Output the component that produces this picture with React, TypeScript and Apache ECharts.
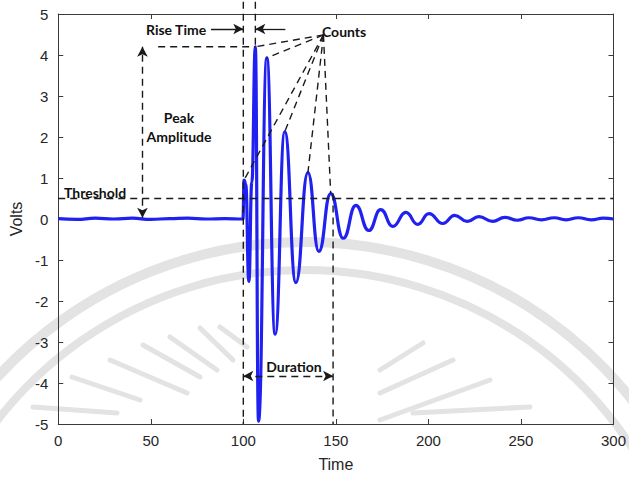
import React, { useEffect, useRef } from "react";
import * as echarts from "echarts";

// ---- axis ranges / ticks ----
const xRange = [0, 300];
const xStep = 50;
const yRange = [-5, 5];
const yStep = 1;

// ---- signal (time, volts) ----
const timeValues = [
  0, 10, 20, 30, 40, 50, 60, 70, 80, 90, 99.8,
  100.4, 101.3, 103, 104.6, 106.5, 108.2, 112.7, 117.2, 122.4, 128.4, 134.9,
  140.8, 147.2, 154, 160.8, 167.8, 174.2, 180.8, 187.8, 194.2, 200.3, 207.8,
  214.2, 221, 227.3, 234.7, 241.3, 248, 254.3, 261, 268, 274.3, 281, 288,
  294.5, 300,
];
const voltValues = [
  0.01, -0.01, 0.02, 0.0, 0.02, -0.01, 0.01, 0.02, 0.0, 0.01, 0.0,
  0.95, 0.85, -1.52, 0.9, 4.2, -4.93, 3.93, -2.81, 2.13, -1.55, 1.13,
  -0.79, 0.62, -0.47, 0.33, -0.28, 0.23, -0.18, 0.16, -0.13, 0.13, -0.11,
  0.09, -0.06, 0.06, -0.06, 0.04, -0.03, 0.03, -0.02, 0.03, -0.02, 0.03, -0.02,
  0.02, 0.0,
];

// ---- annotation geometry (data coordinates) ----
const thresholdLevel = 0.5;
const peakLevel = 4.2;
const burstStart = 100;
const burstEnd = 148.5;
const peakTime = 106.5;
const axisOvershoot = 5.3;
const peakLineStart = 54;
const ampArrowTime = 45.5;
const riseArrowLevel = 4.635;
const riseArrowLeftFrom = 82.5;
const riseArrowRightFrom = 122.7;
const durationLevel = -3.83;
const countsApex: [number, number] = [143.3, 4.49];
const countPeaks: [number, number][] = [
  [100.4, 0.95],
  [106.5, 4.2],
  [112.7, 3.93],
  [122.4, 2.13],
  [134.9, 1.13],
  [147.2, 0.62],
];

const dashedSegments: [number, number][][] = [
  [[xRange[0], thresholdLevel], [xRange[1], thresholdLevel]],
  [[burstStart, axisOvershoot], [burstStart, yRange[0]]],
  [[peakTime, axisOvershoot], [peakTime, peakLevel]],
  [[peakLineStart, peakLevel], [peakTime, peakLevel]],
  [[burstEnd, 0.62], [burstEnd, yRange[0]]],
  ...countPeaks.map((p) => [countsApex, p] as [number, number][]),
];

const FONT_AX = "'Liberation Sans', Arial, sans-serif";
const FONT_ANN = "Lato, 'Open Sans', sans-serif";
const AX_COLOR = "#3a3a3a";
const TXT_COLOR = "#262626";
const DASH = [7, 5];

export default function App() {
  const ref = useRef<HTMLDivElement>(null);

  useEffect(() => {
    if (!ref.current) return;
    const chart = echarts.init(ref.current, undefined, { renderer: "svg" });

    const axisCommon = {
      type: "value" as const,
      axisLine: { show: true, onZero: false, lineStyle: { color: AX_COLOR, width: 1 } },
      axisTick: { show: true, inside: true, length: 5, lineStyle: { color: AX_COLOR } },
      splitLine: { show: false },
    };

    const dashedSeries = dashedSegments.map((seg) => ({
      type: "line",
      data: seg,
      symbol: "none",
      clip: false,
      silent: true,
      z: 3,
      lineStyle: { color: "#1a1a1a", width: 1.4, type: DASH },
    }));

    const arrowLine = (
      a: [number, number],
      b: [number, number],
      startArrow: boolean,
      endArrow: boolean
    ) => [
      { coord: a, symbol: startArrow ? "arrow" : "none" },
      { coord: b, symbol: endArrow ? "arrow" : "none" },
    ];

    const markCommon = {
      silent: true,
      animation: false,
      symbol: ["none", "none"],
      symbolSize: [8, 10],
      label: { show: false },
      emphasis: { disabled: true },
    };

    const arrowSeries = {
      type: "line",
      data: [],
      clip: false,
      silent: true,
      z: 3,
      markLine: {
        ...markCommon,
        lineStyle: { color: "#1a1a1a", width: 1.4, type: DASH },
        data: [
          arrowLine([ampArrowTime, 0.03], [ampArrowTime, peakLevel], true, true),
          arrowLine([burstStart, durationLevel], [burstEnd, durationLevel], true, true),
        ],
      },
    };

    const solidArrowSeries = {
      type: "line",
      data: [],
      clip: false,
      silent: true,
      z: 3,
      markLine: {
        ...markCommon,
        lineStyle: { color: "#1a1a1a", width: 1.3, type: "solid" },
        data: [
          arrowLine([riseArrowLeftFrom, riseArrowLevel], [burstStart, riseArrowLevel], false, true),
          arrowLine([riseArrowRightFrom, riseArrowLevel], [peakTime, riseArrowLevel], false, true),
        ],
      },
    };

    const annText = (text: string, x: number, y: number, align = "left") => ({
      type: "text",
      x,
      y,
      z: 20,
      silent: true,
      style: {
        text,
        fontFamily: FONT_ANN,
        fontWeight: "bold",
        fontSize: 14,
        fill: "#111",
        align,
        verticalAlign: "middle",
      },
    });

    const wm = "#e3e3e3";
    const rays: number[][] = [
      [72, 377, 140, 400],
      [110, 360, 187, 393],
      [143, 345, 200, 377],
      [170, 337, 217, 370],
      [200, 328, 233, 360],
      [220, 327, 247, 347],
      [33, 407, 117, 413],
      [423, 343, 380, 370],
      [453, 360, 380, 393],
      [490, 380, 380, 420],
      [530, 407, 413, 413],
    ];

    const graphic: any[] = [
      {
        type: "arc",
        z: -10,
        silent: true,
        shape: { cx: 305, cy: 660, r: 418, startAngle: (200 * Math.PI) / 180, endAngle: (340 * Math.PI) / 180 },
        style: { stroke: wm, lineWidth: 10, fill: "none" },
      },
      {
        type: "arc",
        z: -10,
        silent: true,
        shape: { cx: 305, cy: 660, r: 390, startAngle: (200 * Math.PI) / 180, endAngle: (340 * Math.PI) / 180 },
        style: { stroke: wm, lineWidth: 8, fill: "none" },
      },
      ...rays.map((r) => ({
        type: "line",
        z: -10,
        silent: true,
        shape: { x1: r[0], y1: r[1], x2: r[2], y2: r[3] },
        style: { stroke: wm, lineWidth: 5, lineCap: "round" },
      })),
      annText("Rise Time", 146, 29),
      annText("Counts", 322, 31),
      annText("Peak", 179, 117, "center"),
      annText("Amplitude", 179, 136, "center"),
      annText("Threshold", 64, 192),
      annText("Duration", 294, 366, "center"),
    ];

    chart.setOption({
      animation: false,
      backgroundColor: "#ffffff",
      grid: { left: 58, right: 14, top: 14, bottom: 52, containLabel: false },
      xAxis: [
        {
          ...axisCommon,
          min: xRange[0],
          max: xRange[1],
          interval: xStep,
          position: "bottom",
          name: "Time",
          nameLocation: "middle",
          nameGap: 32,
          nameTextStyle: { fontSize: 16, color: TXT_COLOR, fontFamily: FONT_AX },
          axisLabel: { fontSize: 15, color: TXT_COLOR, margin: 9, fontFamily: FONT_AX },
        },
        {
          ...axisCommon,
          min: xRange[0],
          max: xRange[1],
          interval: xStep,
          position: "top",
          axisLabel: { show: false },
        },
      ],
      yAxis: [
        {
          ...axisCommon,
          min: yRange[0],
          max: yRange[1],
          interval: yStep,
          position: "left",
          name: "Volts",
          nameLocation: "middle",
          nameGap: 29,
          nameTextStyle: { fontSize: 16, color: TXT_COLOR, fontFamily: FONT_AX },
          axisLabel: { fontSize: 15, color: TXT_COLOR, margin: 10, fontFamily: FONT_AX },
        },
        {
          ...axisCommon,
          min: yRange[0],
          max: yRange[1],
          interval: yStep,
          position: "right",
          axisLabel: { show: false },
        },
      ],
      graphic,
      series: [
        {
          type: "line",
          data: timeValues.map((t, i) => [t, voltValues[i]]),
          symbol: "none",
          smooth: 0.5,
          smoothMonotone: "x",
          silent: true,
          z: 2,
          lineStyle: { color: "#2020f0", width: 3.2 },
        },
        ...dashedSeries,
        arrowSeries,
        solidArrowSeries,
      ],
    });

    return () => chart.dispose();
  }, []);

  return <div ref={ref} style={{ width: 629, height: 477, position: "absolute", left: 0, top: 0 }} />;
}
